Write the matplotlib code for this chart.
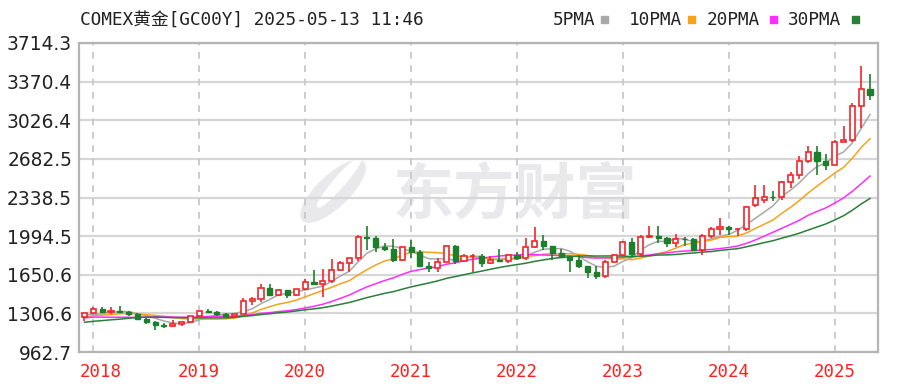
import numpy as np
import pandas as pd
import matplotlib
matplotlib.use("Agg")
import matplotlib.pyplot as plt
from matplotlib.patches import Ellipse

# ---------------- data ----------------
months = pd.period_range("2017-12", "2025-05", freq="M").astype(str).tolist()

opens = [1275, 1309, 1345, 1318, 1327, 1318, 1305, 1254, 1233, 1206, 1196, 1215, 1226,
         1283, 1325, 1316, 1298, 1285, 1305, 1413, 1437, 1529, 1472, 1514, 1472,
         1523, 1587, 1566, 1597, 1694, 1751, 1800, 1986, 1978, 1895, 1879, 1780,
         1895, 1850, 1728, 1715, 1768, 1905, 1771, 1817, 1818, 1757, 1784, 1775,
         1829, 1796, 1900, 1954, 1911, 1848, 1807, 1781, 1726, 1672, 1640, 1768,
         1826, 1942, 1836, 1986, 1999, 1982, 1929, 1970, 1966, 1870, 1996, 2057,
         2072, 2054, 2055, 2270, 2315, 2345, 2339, 2473, 2536, 2660, 2743, 2663,
         2629, 2835, 2848, 3150, 3305]
highs = [1309, 1366, 1366, 1365, 1369, 1326, 1309, 1266, 1236, 1220, 1247, 1237, 1285,
         1326, 1349, 1325, 1312, 1310, 1442, 1453, 1566, 1566, 1525, 1518, 1528,
         1611, 1691, 1704, 1788, 1775, 1796, 2005, 2089, 2000, 1933, 1966, 1908,
         1962, 1875, 1760, 1798, 1917, 1919, 1836, 1834, 1837, 1814, 1877, 1833,
         1853, 1976, 2078, 2003, 1911, 1880, 1815, 1824, 1730, 1730, 1786, 1833,
         1949, 1975, 2009, 2085, 2085, 1983, 2011, 1984, 1977, 2010, 2076, 2152,
         2088, 2068, 2265, 2448, 2454, 2399, 2484, 2570, 2708, 2801, 2800, 2726,
         2853, 2974, 3177, 3509, 3435]
lows = [1238, 1302, 1307, 1303, 1314, 1282, 1251, 1211, 1160, 1180, 1182, 1198, 1222,
        1277, 1310, 1281, 1267, 1270, 1303, 1382, 1412, 1471, 1459, 1446, 1460,
        1518, 1563, 1451, 1577, 1680, 1678, 1770, 1874, 1851, 1860, 1764, 1776,
        1803, 1717, 1677, 1678, 1765, 1750, 1766, 1677, 1721, 1746, 1761, 1753,
        1780, 1781, 1890, 1872, 1786, 1805, 1678, 1709, 1622, 1617, 1618, 1764,
        1823, 1809, 1813, 1975, 1932, 1900, 1902, 1904, 1858, 1823, 1975, 2005,
        2002, 1996, 2041, 2258, 2290, 2303, 2320, 2420, 2500, 2645, 2541, 2583,
        2625, 2832, 2836, 2957, 3203]
closes = [1309, 1345, 1318, 1327, 1318, 1305, 1254, 1233, 1206, 1196, 1215, 1226, 1283,
          1325, 1316, 1298, 1285, 1305, 1413, 1437, 1529, 1472, 1514, 1472, 1523,
          1587, 1566, 1597, 1694, 1751, 1800, 1986, 1978, 1895, 1879, 1780, 1895,
          1850, 1728, 1715, 1768, 1905, 1771, 1817, 1818, 1757, 1784, 1775, 1829,
          1796, 1900, 1954, 1911, 1848, 1807, 1781, 1726, 1672, 1640, 1768, 1826,
          1942, 1836, 1986, 1999, 1982, 1929, 1970, 1966, 1870, 1996, 2057, 2072,
          2054, 2055, 2254, 2330, 2345, 2339, 2473, 2536, 2660, 2743, 2663, 2629,
          2835, 2848, 3150, 3305, 3250]
# monthly closes before the visible window (Jul 2015 - Nov 2017), used by the moving averages
prior_closes = [1095, 1132, 1115, 1142, 1065, 1060, 1118, 1238, 1233, 1293, 1216, 1322,
                1351, 1309, 1316, 1277, 1173, 1152, 1211, 1254, 1249, 1268, 1268, 1242,
                1268, 1322, 1283, 1271, 1275]

ma_periods = [5, 10, 20, 30]
ma_names = ["5PMA", "10PMA", "20PMA", "30PMA"]
ma_colors = ["#a8a8a8", "#f7a21b", "#ff2cff", "#2a7f3a"]

ytick_values = [962.7, 1306.6, 1650.6, 1994.5, 2338.5, 2682.5, 3026.4, 3370.4, 3714.3]
ytick_labels = ["962.7", "1306.6", "1650.6", "1994.5", "2338.5", "2682.5", "3026.4", "3370.4", "3714.3"]
year_labels = ["2018", "2019", "2020", "2021", "2022", "2023", "2024", "2025"]
title_text = "COMEX黄金[GC00Y] 2025-05-13 11:46"
watermark = "东方财富"

# ---------------- figure ----------------
W, H = 904, 388
fig = plt.figure(figsize=(W / 100, H / 100), dpi=100)
L, R, T, B = 79, 878, 43, 352
ax = fig.add_axes([L / W, 1 - B / H, (R - L) / W, (B - T) / H])

o = np.array(opens, float); h = np.array(highs, float)
l = np.array(lows, float); c = np.array(closes, float)
x = np.arange(len(c))
up = c >= o

# watermark
wm = "#e9e9ec"
ax.text(0.392, 0.505, watermark, transform=ax.transAxes, ha="left", va="center",
        fontsize=44, fontweight="bold", color=wm,
        family=["Noto Sans CJK SC"], zorder=0)
ax.add_patch(Ellipse((0.318, 0.52), 0.05, 0.21, angle=-18, transform=ax.transAxes,
                     color=wm, zorder=0))
ax.add_patch(Ellipse((0.326, 0.55), 0.016, 0.17, angle=-18, transform=ax.transAxes,
                     color="#ffffff", zorder=0))

# grid
for yv in ytick_values:
    ax.axhline(yv, color="#d6d6d6", lw=1.6, zorder=1)
year_idx = [i for i, m in enumerate(months) if m.endswith("-01")]
for xi in year_idx:
    ax.axvline(xi, color="#c4c4c4", lw=1.2, ls=(0, (4, 4)), zorder=1)

# moving averages
allc = pd.Series(prior_closes + closes, dtype=float)
n0 = len(prior_closes)
for p, col in zip(ma_periods, ma_colors):
    ma = allc.rolling(p).mean().to_numpy()[n0:]
    ax.plot(x, ma, color=col, lw=1.1, zorder=2)

# candles
red, green = "#f2262a", "#1c7f2c"
bw = 0.58
for xi, oo, hh, ll, cc, u in zip(x, o, h, l, c, up):
    col = red if u else green
    ax.vlines(xi, ll, hh, color=col, lw=1.2, zorder=3)
bottoms = np.minimum(o, c)
heights = np.maximum(np.abs(c - o), 4)
ax.bar(x[up], heights[up], bottom=bottoms[up], width=bw, facecolor="white",
       edgecolor=red, lw=1.2, zorder=4)
ax.bar(x[~up], heights[~up], bottom=bottoms[~up], width=bw, facecolor=green,
       edgecolor=green, lw=1.0, zorder=4)

# axes
px_per_month = 8.826
x0_px = 84.5
ax.set_xlim(-(x0_px - L) / px_per_month, (R - x0_px) / px_per_month)
ax.set_ylim(ytick_values[0], ytick_values[-1])
ax.set_yticks(ytick_values)
ax.set_yticklabels(ytick_labels, fontsize=13.4, color="#222222", family="DejaVu Sans")
ax.tick_params(axis="y", length=0, pad=5)
ax.set_xticks([])
for s in ax.spines.values():
    s.set_color("#b4b4b4")
    s.set_linewidth(1.6)

mono = ["DejaVu Sans Mono", "Noto Sans CJK SC"]
for k, (xi, lab) in enumerate(zip(year_idx, year_labels)):
    xx = xi + (0.8 if k == 0 else 0)
    ax.text(xx, -0.065, lab, transform=ax.get_xaxis_transform(), ha="center", va="center",
            fontsize=12.5, color="#ff2020", family=mono)

# title & legend
fig.text(80 / W, 1 - 20 / H, title_text, ha="left", va="center", fontsize=12.8,
         color="#222222", family=mono)
leg_x = [553, 629, 707, 788]
sq_x = [601, 688, 770, 852]
for name, col, lx, sx in zip(ma_names, ma_colors, leg_x, sq_x):
    fig.text(lx / W, 1 - 20 / H, name, ha="left", va="center", fontsize=12.8,
             color="#222222", family=mono)
    fig.patches.append(plt.Rectangle((sx / W, 1 - 23 / H), 7 / W, 7 / H,
                                     transform=fig.transFigure, color=col, figure=fig))

fig.savefig("out.png", dpi=100)
